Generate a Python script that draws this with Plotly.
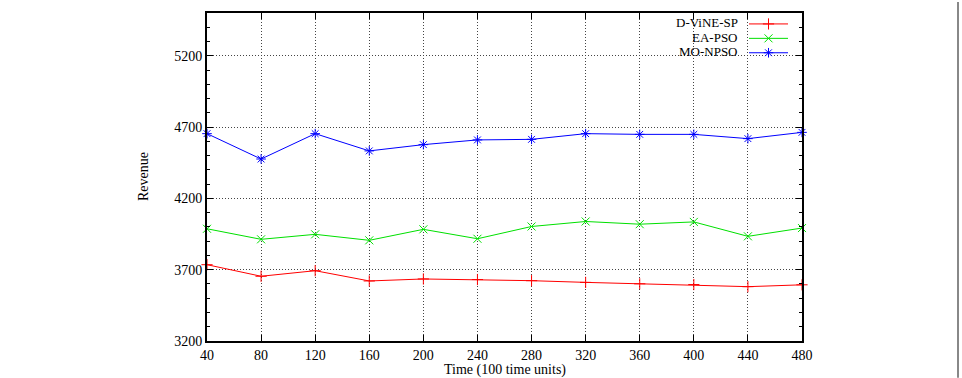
import plotly.graph_objects as go

# ---- data ----
time_units = [40, 80, 120, 160, 200, 240, 280, 320, 360, 400, 440, 480]
d_vine_sp = [3735, 3654, 3693, 3621, 3635, 3631, 3623, 3611, 3601, 3596, 3581, 3594]
ea_pso = [3987, 3913, 3948, 3906, 3983, 3917, 4003, 4038, 4019, 4035, 3934, 3992]
mo_npso = [4654, 4476, 4654, 4533, 4577, 4610, 4614, 4654, 4649, 4649, 4619, 4663]
series_names = ["D-ViNE-SP", "EA-PSO", "MO-NPSO"]
y_ticks = [3200, 3700, 4200, 4700, 5200]

colors = ["#ff0000", "#00e000", "#0000ff"]
symbols = ["cross-thin-open", "x-thin-open", "asterisk-open"]
FONT = "Liberation Serif"
FS = 14

W, H = 962, 378
L, R, T, B = 207, 160, 11, 37
px_left, px_right, px_top, px_bottom = L, W - R, T, H - B

fig = go.Figure()
for name, vals, c, s in zip(series_names, [d_vine_sp, ea_pso, mo_npso], colors, symbols):
    fig.add_trace(go.Scatter(
        x=time_units, y=vals, mode="lines+markers", name=name,
        line=dict(color=c, width=1),
        marker=dict(symbol=s, size=8, color=c, line=dict(color=c, width=1)),
        showlegend=False, cliponaxis=False,
    ))

# ---- gnuplot-style key (text left, sample right) on a pixel overlay axis ----
key_rows = [22, 36.5, 51]
key_text_right = 740
key_line = (749, 788)
for name, c, s, yy in zip(series_names, colors, symbols, key_rows):
    fig.add_trace(go.Scatter(
        x=[key_line[0], key_line[1]], y=[yy, yy], mode="lines",
        line=dict(color=c, width=1), xaxis="x2", yaxis="y2",
        showlegend=False, hoverinfo="skip",
    ))
    fig.add_trace(go.Scatter(
        x=[(key_line[0] + key_line[1]) / 2], y=[yy], mode="markers",
        marker=dict(symbol=s, size=8, color=c, line=dict(color=c, width=1)),
        xaxis="x2", yaxis="y2", showlegend=False, hoverinfo="skip",
    ))
    fig.add_annotation(
        x=key_text_right, y=yy - 1, xref="x2", yref="y2", text=name,
        showarrow=False, xanchor="right", yanchor="middle",
        font=dict(family=FONT, size=13, color="black"),
    )

axis_common = dict(
    showline=True, linecolor="black", linewidth=2, mirror="allticks",
    ticks="inside", ticklen=6, tickcolor="black", tickwidth=1,
    showgrid=True, gridcolor="#444444", griddash="1px,2px", gridwidth=1,
    zeroline=False, tickfont=dict(family=FONT, size=FS, color="black"),
)

fig.update_layout(
    width=W, height=H,
    margin=dict(l=L, r=R, t=T, b=B, pad=0),
    paper_bgcolor="white", plot_bgcolor="white",
    xaxis=dict(range=[40, 480], tickvals=time_units, **axis_common),
    yaxis=dict(range=[3200, 5500], tickvals=y_ticks,
               minor=dict(dtick=100, tick0=3200, ticklen=3, ticks="inside",
                          tickcolor="black", showgrid=False),
               **axis_common),
    xaxis2=dict(overlaying="x", range=[px_left, px_right], visible=False, fixedrange=True),
    yaxis2=dict(overlaying="y", range=[px_bottom, px_top], visible=False, fixedrange=True),
    showlegend=False,
)

# axis titles
fig.add_annotation(
    x=(143 - px_left) / (px_right - px_left), y=0.5, xref="paper", yref="paper",
    text="Revenue", textangle=-90, showarrow=False,
    xanchor="center", yanchor="middle",
    font=dict(family=FONT, size=FS, color="black"),
)
fig.add_annotation(
    x=0.5, y=-(370 - px_bottom) / (px_bottom - px_top), xref="paper", yref="paper",
    text="Time (100 time units)", showarrow=False,
    xanchor="center", yanchor="middle",
    font=dict(family=FONT, size=FS, color="black"),
)

# page edge line at right
xe = (958 - px_left) / (px_right - px_left)
fig.add_shape(type="line", xref="paper", yref="paper",
              x0=xe, x1=xe, y0=-B / (px_bottom - px_top), y1=1 + T / (px_bottom - px_top),
              line=dict(color="#888888", width=2))

fig.write_html("out.html")
